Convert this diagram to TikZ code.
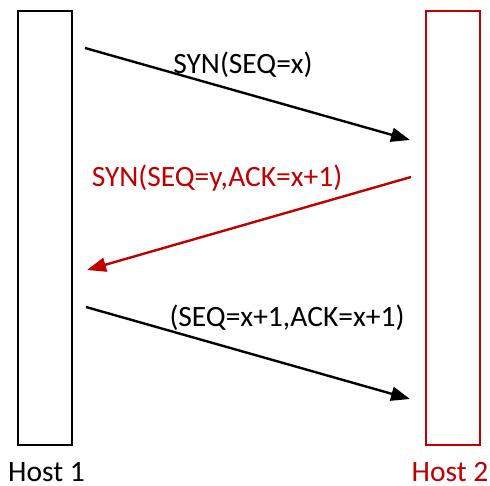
\documentclass[tikz,border=0pt]{standalone}
\usepackage{fontspec}
\setmainfont{Carlito}
\usetikzlibrary{arrows.meta}
\definecolor{hostred}{HTML}{C00000}
\tikzset{
  hostbox/.style={draw, line width=2pt, minimum width=54pt, minimum height=434pt, inner sep=0pt, anchor=north west},
  msg/.style={line width=2.4pt, -{Triangle[length=19pt,width=14pt]}},
  lbl/.style={font=\fontsize{29.5}{33}\selectfont, inner sep=0pt},
}
\begin{document}
\begin{tikzpicture}[x=1pt,y=-1pt]
  \useasboundingbox (0,0) rectangle (490,486);
  % the two hosts
  \node[hostbox] (h1) at (17,10) {};
  \node[hostbox, draw=hostred] (h2) at (425,10) {};
  \node[lbl, anchor=base] (n1) at (46.5,481) {Host 1};
  \node[lbl, anchor=base, text=hostred] (n2) at (450,481) {Host 2};
  % message end points
  \coordinate (a1) at (85,48);
  \coordinate (b1) at (410,140);
  \coordinate (a2) at (411,177);
  \coordinate (b2) at (87,270);
  \coordinate (a3) at (86,307);
  \coordinate (b3) at (410,399);
  % messages
  \draw[msg] (a1) -- (b1);
  \draw[msg, hostred] (a2) -- (b2);
  \draw[msg] (a3) -- (b3);
  \node[lbl] (m1) at (243,65) {SYN(SEQ=x)};
  \node[lbl, text=hostred] (m2) at (217,178) {SYN(SEQ=y,ACK=x+1)};
  \node[lbl] (m3) at (287,318) {(SEQ=x+1,ACK=x+1)};
\end{tikzpicture}
\end{document}
